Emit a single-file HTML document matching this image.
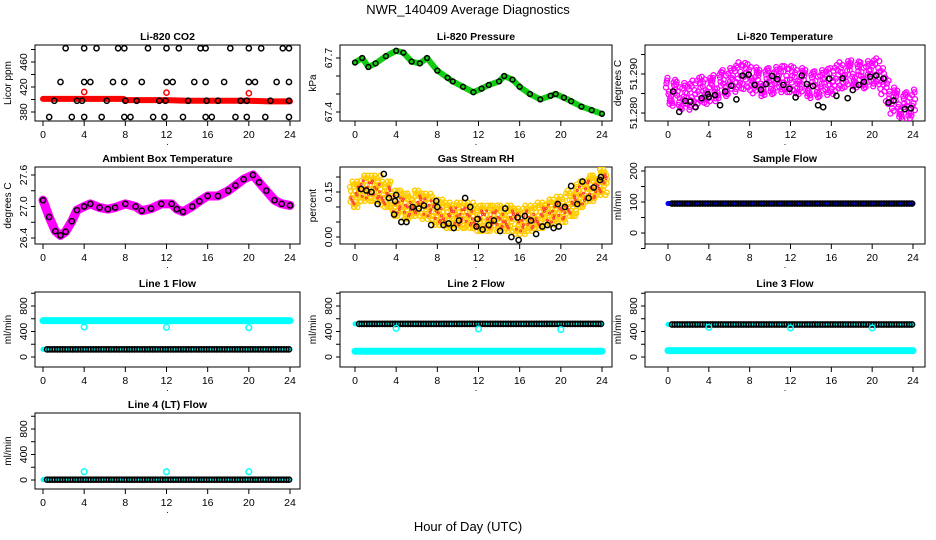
<!DOCTYPE html>
<html><head><meta charset="utf-8"><style>
html,body{margin:0;padding:0;background:#fff}
svg{display:block;font-family:"Liberation Sans",sans-serif}
</style></head><body>
<svg id="c" width="936" height="540" viewBox="0 0 936 540">
<text x="468" y="14" text-anchor="middle" font-size="13">NWR_140409  Average Diagnostics</text>
<text x="468" y="531" text-anchor="middle" font-size="13">Hour of Day (UTC)</text>
</svg>
<script>
// ---- data ----
const xTicks = [0,4,8,12,16,20,24];
const co2TopT = [2.2,4,5.2,7.3,7.9,10.2,12,13.2,15.3,15.8,18.2,20,21.2,23.3,23.9];
const co2MidT = [1.7,4,4.6,6.8,7.9,9.6,12,12.6,14.7,15.8,17.6,20,20.6,22.7,23.9];
const co2LowT = [1.1,3.3,3.8,6.2,8,9.1,11.3,11.9,14.1,15.9,17,19.2,19.8,22.1,23.9];
const co2BotT = [0.6,2.8,4,5.7,7.9,8.5,10.7,11.8,13.6,15.8,16.4,18.7,19.8,21.6,23.9];
const co2Levels = [482,428,398,372];
const co2RedT = [0,2,4,6,7.8,8,10,12,14,16,18,20,22,24];
const co2RedV = [401,401,401,401,401,399,399,399,398,398,398,398,397,397];
const co2CalT = [4,12,20];
const co2CalV = [412,411,410];
const presT = [0,0.7,1.3,2,3,4,4.7,5.5,6.3,7,8,9,9.5,10.5,11.5,12.3,13,14,14.5,15.3,16,17,18,19,19.5,20.3,21,22,23,24];
const presV = [67.675,67.70,67.65,67.67,67.71,67.74,67.73,67.68,67.67,67.70,67.63,67.59,67.57,67.54,67.51,67.53,67.55,67.57,67.60,67.58,67.54,67.50,67.47,67.49,67.50,67.48,67.46,67.43,67.41,67.39];
const tempT = [0,0.5,1,1.5,2,2.5,3,3.5,4,4.5,5,5.5,6,6.5,7,7.5,8,8.5,9,9.5,10,10.5,11,11.5,12,12.5,13,13.5,14,14.5,15,15.5,16,16.5,17,17.5,18,18.5,19,19.5,20,20.5,21,21.5,22,22.5,23,23.5,24];
const tempV = [51.2855,51.2850,51.2845,51.2842,51.2840,51.2848,51.2855,51.2858,51.2855,51.2862,51.2870,51.2875,51.2880,51.2886,51.2895,51.2893,51.2890,51.2882,51.2875,51.2878,51.2880,51.2883,51.2885,51.2885,51.2885,51.2882,51.2880,51.2875,51.2870,51.2872,51.2875,51.2878,51.2880,51.2888,51.2895,51.2898,51.2900,51.2897,51.2895,51.2898,51.2900,51.2905,51.2880,51.2855,51.2830,51.2822,51.2815,51.2818,51.2825];
const tempBlkT = [0.5,1.1,1.7,2.2,2.7,3.3,3.9,4,4.6,5.1,5.6,6.2,6.7,7.3,7.9,8.5,9.1,9.6,10.2,10.7,11.3,11.9,12.5,13.1,13.6,14.2,14.7,15.2,15.8,16.5,17.1,17.6,18.1,18.7,19.2,19.8,20.4,21.1,21.6,22.1,22.7,23.2,23.8];
const tempBlkV = [51.2855,51.2803,51.2831,51.2829,51.2815,51.2838,51.2848,51.2841,51.2846,51.2820,51.2855,51.2870,51.2835,51.2896,51.2898,51.2872,51.2860,51.2874,51.2895,51.2887,51.2872,51.2862,51.2840,51.2896,51.2874,51.2869,51.2820,51.2815,51.2888,51.2844,51.2889,51.2838,51.2859,51.2872,51.2880,51.2893,51.2896,51.2888,51.2827,51.2832,51.2773,51.2810,51.2812];
const ambT = [0,0.6,1.2,1.7,2.2,2.8,3.3,4,4.6,5.5,6.3,7,8,9,9.6,10.5,11.5,12.5,13,13.6,14.5,15.2,16,17,18,18.7,19.5,20.4,21,21.7,22.5,23.2,24];
const ambV = [27.12,26.8,26.53,26.45,26.52,26.72,26.93,27.0,27.05,26.98,26.95,26.98,27.05,27.0,26.92,26.96,27.05,27.05,26.95,26.9,27.0,27.1,27.2,27.2,27.3,27.4,27.52,27.6,27.46,27.3,27.12,27.05,27.02];
const rhT = [0,1,2,3,4,5,6,7,8,9,10,11,12,13,14,15,16,17,18,19,20,21,22,23,24];
const rhV = [0.14,0.16,0.16,0.14,0.11,0.10,0.11,0.10,0.08,0.07,0.07,0.07,0.06,0.06,0.06,0.06,0.05,0.06,0.07,0.08,0.09,0.11,0.14,0.16,0.18];
const rhBlkT = [0.6,1.1,1.6,2.2,2.8,3.3,3.8,3.9,4,4.5,5,5.6,6.2,6.7,7.4,7.9,8,8.6,9.1,9.6,10.1,10.7,11.2,11.8,11.9,12.4,13,13.5,14.1,14.6,15.2,15.8,15.9,16.5,17.1,17.6,18.2,18.7,19.3,19.7,19.8,20.4,21,21.6,22.1,22.7,23.2,23.8,23.9];
const rhBlkV = [0.16,0.155,0.15,0.11,0.21,0.13,0.075,0.12,0.14,0.05,0.05,0.10,0.095,0.105,0.04,0.12,0.10,0.04,0.045,0.03,0.055,0.13,0.10,0.035,0.06,0.025,0.04,0.055,0.02,0.095,0.00,0.065,-0.01,0.07,0.055,0.01,0.035,0.04,0.03,0.11,0.035,0.10,0.17,0.11,0.185,0.13,0.165,0.19,0.20];
const flowT = [0,24];
const sampleV = [95,95];
const l1CyanV = [570,570]; const l1BlackV = [120,120];
const l2BlackV = [520,520]; const l2CyanV = [90,90];
const l3BlackV = [510,510]; const l3CyanV = [100,100];
const l4BlackV = [5,5];
const calT = [4,12,20];
const l1CalV = [470,465,460]; const l2CalV = [450,440,430]; const l3CalV = [465,455,455]; const l4CalV = [130,130,130];
const cloudOffsets = [0,0.6,-0.5,1,-0.9,0.3,-0.2,0.8,-0.7];
const cloudShift = [0.1,-0.15,0.2,-0.05,0.15,-0.2,0.05,-0.1,0.18];

// ---- layout ----
const cols = [{bl:35,br:300,x0:43,x24:290},{bl:340,br:612,x0:355,x24:602},{bl:645,br:925,x0:668,x24:913}];
const rows = [{t:45,b:121},{t:167,b:244},{t:292,b:367},{t:413,b:489}];
const NS='http://www.w3.org/2000/svg';
const svg=document.getElementById('c');
function el(tag,attrs,parent){const e=document.createElementNS(NS,tag);for(const k in attrs)e.setAttribute(k,attrs[k]);(parent||svg).appendChild(e);return e;}

function panel(r,c,name,title,ylab,yA,yB,yVA,yVB,ticks,labels){
  const col=cols[c],row=rows[r];
  const g=el('g',{});
  
  
  const X=t=>col.x0+(col.x24-col.x0)*t/24;
  const Y=v=>yA+(yB-yA)*(v-yVA)/(yVB-yVA);
  const t=el('text',{x:(col.bl+col.br)/2,y:row.t-5,'text-anchor':'middle','font-size':'10.5','font-weight':'bold'},g);
  t.textContent=title;
  
  
  const box=el('rect',{x:col.bl,y:row.t,width:col.br-col.bl,height:row.b-row.t,fill:'none',stroke:'#000','stroke-width':1},g);
  
  
  el('line',{x1:col.x0,x2:col.x24,y1:row.b,y2:row.b,stroke:'#000'},g);
  xTicks.forEach(v=>{
    el('line',{x1:X(v),x2:X(v),y1:row.b,y2:row.b+5,stroke:'#000'},g);
    const l=el('text',{x:X(v),y:row.b+17,'text-anchor':'middle','font-size':'10.5'},g);
    l.textContent=v;
    
    
  });
  const ys=ticks.map(Y);
  el('line',{x1:col.bl,x2:col.bl,y1:Math.min(...ys),y2:Math.max(...ys),stroke:'#000'},g);
  ticks.forEach(v=>el('line',{x1:col.bl-4,x2:col.bl,y1:Y(v),y2:Y(v),stroke:'#000'},g));
  labels.forEach(s=>{
    const yy=Y(parseFloat(s));
    const l=el('text',{x:col.bl-8,y:yy,'text-anchor':'middle','font-size':'10.5',transform:`rotate(-90 ${col.bl-8} ${yy})`},g);
    l.textContent=s;
    
    
  });
  const yl=el('text',{x:col.bl-24,y:(row.t+row.b)/2,'text-anchor':'middle','font-size':'10',transform:`rotate(-90 ${col.bl-24} ${(row.t+row.b)/2})`},g);
  yl.textContent=ylab;
  
  
  const d=el('text',{x:(col.bl+col.br)/2,y:row.b+24,'text-anchor':'middle','font-size':'9'},g);
  d.textContent='.';
  const clip='clip'+r+c;
  const cp=el('clipPath',{id:clip},g);
  el('rect',{x:col.bl,y:row.t,width:col.br-col.bl,height:row.b-row.t},cp);
  const pg=el('g',{'clip-path':`url(#${clip})`},g);
  return {X,Y,g:pg};
}
function pt(P,t,v,color,r,name,w){
  const c=el('circle',{cx:P.X(t),cy:P.Y(v),r:r||2.6,fill:'none',stroke:color,'stroke-width':w||1.5},P.g);
  
  
}
function band(P,ts,vs,color,w,name){
  const p=el('polyline',{points:ts.map((t,i)=>P.X(t)+','+P.Y(vs[i])).join(' '),fill:'none',stroke:color,'stroke-width':w,'stroke-linejoin':'round','stroke-linecap':'round'},P.g);
  
  
}
function beads(P,ts,vs,color,name){
  for(let t=ts[0]+0.4;t<=ts[ts.length-1];t+=0.25){pt(P,t,vs[0],color,2.6,name);}
}

// CO2
let P=panel(0,0,'co2-panel','Li-820 CO2','Licor ppm',112,62,380,460,[380,400,420,440,460,480],['380','420','460']);
band(P,co2RedT,co2RedV,'#f00',6,'co2-line');
co2TopT.forEach(t=>pt(P,t,co2Levels[0],'#000',2.6,'co2-point'));
co2MidT.forEach(t=>pt(P,t,co2Levels[1],'#000',2.6,'co2-point'));
co2LowT.forEach(t=>pt(P,t,co2Levels[2],'#000',2.6,'co2-point'));
co2BotT.forEach(t=>pt(P,t,co2Levels[3],'#000',2.6,'co2-point'));
co2CalT.forEach((t,i)=>pt(P,t,co2CalV[i],'#f00',2.6,'co2-cal-point'));

// Pressure
P=panel(0,1,'pressure-panel','Li-820 Pressure','kPa',112,58,67.4,67.7,[67.4,67.5,67.6,67.7],['67.4','67.7']);
band(P,presT,presV,'#1c1',6,'pressure-line');
presT.forEach((t,i)=>pt(P,t,presV[i],'#000',2.4,'pressure-point'));

// Temperature
P=panel(0,2,'li820-temp-panel','Li-820 Temperature','degrees C',113,74,51.280,51.290,[51.280,51.285,51.290,51.295],['51.280','51.290']);
tempT.forEach((t,i)=>cloudOffsets.forEach((o,j)=>{
  pt(P,t+cloudShift[(i+j)%9],tempV[i]+cloudOffsets[(i*2+j)%9]*0.0035,'#f0f',2.5,'temp-point',1.3);
}));
tempBlkT.forEach((t,i)=>pt(P,t,tempBlkV[i],'#000',2.6,'temp-avg-point'));

// RH
P=panel(1,1,'rh-panel','Gas Stream RH','percent',237,192,0,0.15,[0,0.05,0.10,0.15,0.20],['0.00','0.15']);
rhT.forEach((t,i)=>cloudOffsets.forEach((o,j)=>{
  [-0.3,0,0.3].forEach((dt,k)=>pt(P,t+dt+cloudShift[(i+j+k)%9],rhV[i]+cloudOffsets[(i+j*2+k)%9]*0.045,'#fc0',2.3,'rh-point',1.4));
}));
rhT.forEach((t,i)=>cloudOffsets.forEach((o,j)=>pt(P,t+cloudShift[(i*3+j)%9]*2,rhV[i]-o*0.03,'#f33',1,'rh-point-core',1)));
rhBlkT.forEach((t,i)=>pt(P,t,rhBlkV[i],'#000',2.6,'rh-avg-point'));

// Ambient
P=panel(1,0,'ambient-temp-panel','Ambient Box Temperature','degrees C',238,175,26.4,27.6,[26.4,26.7,27.0,27.3,27.6],['26.4','27.0','27.6']);
band(P,ambT,ambV,'#f0f',9,'ambient-line');
ambT.forEach((t,i)=>pt(P,t,ambV[i],'#000',2.6,'ambient-point'));

// Sample flow
P=panel(1,2,'sample-flow-panel','Sample Flow','ml/min',233,171,0,200,[-50,0,50,100,150,200],['0','100','200']);
band(P,flowT,sampleV,'#00f',5,'sample-flow-line');
beads(P,flowT,sampleV,'#000','sample-flow-point');

// Line 1
const fT=[0,200,400,600,800,1000],fL=['0','400','800'];
P=panel(2,0,'line1-flow-panel','Line 1 Flow','ml/min',357,306,0,800,fT,fL);
band(P,flowT,l1CyanV,'#0ff',7,'line1-flow-cyan');
band(P,flowT,l1BlackV,'#0ff',5,'line1-flow-cyan-low');
beads(P,flowT,l1BlackV,'#000','line1-flow-point');
calT.forEach((t,i)=>pt(P,t,l1CalV[i],'#0ff',2.8,'line1-cal-point'));

// Line 2
P=panel(2,1,'line2-flow-panel','Line 2 Flow','ml/min',357,306,0,800,fT,fL);
band(P,flowT,l2CyanV,'#0ff',7,'line2-flow-cyan');
band(P,flowT,l2BlackV,'#0ff',5,'line2-flow-cyan-high');
beads(P,flowT,l2BlackV,'#000','line2-flow-point');
calT.forEach((t,i)=>pt(P,t,l2CalV[i],'#0ff',2.8,'line2-cal-point'));

// Line 3
P=panel(2,2,'line3-flow-panel','Line 3 Flow','ml/min',357,306,0,800,fT,fL);
band(P,flowT,l3CyanV,'#0ff',7,'line3-flow-cyan');
band(P,flowT,l3BlackV,'#0ff',5,'line3-flow-cyan-high');
beads(P,flowT,l3BlackV,'#000','line3-flow-point');
calT.forEach((t,i)=>pt(P,t,l3CalV[i],'#0ff',2.8,'line3-cal-point'));

// Line 4
P=panel(3,0,'line4-flow-panel','Line 4 (LT) Flow','ml/min',480,429,0,800,fT,fL);
band(P,flowT,l4BlackV,'#0ff',5,'line4-flow-cyan');
beads(P,flowT,l4BlackV,'#000','line4-flow-point');
calT.forEach((t,i)=>pt(P,t,l4CalV[i],'#0ff',2.8,'line4-cal-point'));
</script>
</body></html>
